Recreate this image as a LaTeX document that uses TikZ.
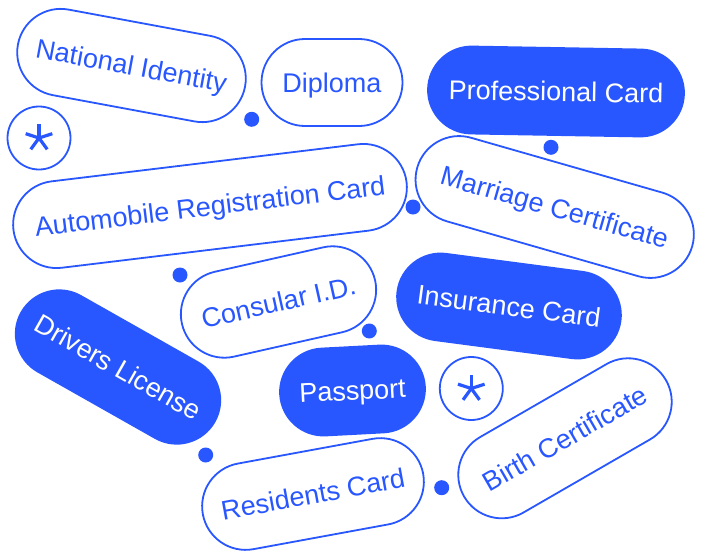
\documentclass[tikz,border=0pt]{standalone}
\usepackage{fontspec}
\setmainfont{Liberation Sans}
\definecolor{brand}{RGB}{41,87,255}
\begin{document}
\begin{tikzpicture}[x=1pt,y=-1pt,
  pill/.style={draw=brand, line width=1.8pt, rounded corners=43.5pt,
    minimum height=87pt, inner sep=0pt, text=brand,
    font=\fontsize{27}{30}\selectfont, text height=19.3pt, text depth=0pt},
  solidpill/.style={pill, fill=brand, text=white},
  dot/.style={circle, fill=brand, minimum size=15pt, inner sep=0pt},
  ring/.style={circle, draw=brand, line width=1.8pt, minimum size=63pt, inner sep=0pt},
  spoke/.style={brand, line width=3.2pt}]
\fill[white] (0,0) rectangle (705,560);
\useasboundingbox (0,0) rectangle (705,560);

% pills
\node[pill, minimum width=231pt, rotate=-10.5] (nat) at (131.5,65.5) {National Identity};
\node[pill, minimum width=141pt] (dip) at (332,82.5) {Diploma};
\node[solidpill, minimum width=256pt, rotate=-1] (prof) at (556,91.5) {Professional Card};
\node[pill, minimum width=396pt, rotate=6.9] (auto) at (210,206) {Automobile Registration Card};
\node[pill, minimum width=286pt, rotate=-16] (mar) at (554.7,207) {Marriage Certificate};
\node[pill, minimum width=198pt, rotate=12.7] (cons) at (278.5,302) {Consular I.D.};
\node[solidpill, minimum width=225pt, rotate=-7.5] (ins) at (509,306) {Insurance Card};
\node[solidpill, minimum width=222pt, rotate=-29.5] (drv) at (118,367) {Drivers License};
\node[solidpill, minimum width=145pt, rotate=3] (pass) at (352.5,390.5) {Passport};
\node[pill, minimum width=224pt, rotate=10.4] (res) at (313,494) {Residents Card};
\node[pill, minimum width=233pt, rotate=30] (birth) at (565,438.3) {Birth Certificate};

% rings with asterisks
\node[ring] (r1) at (39,138) {};
\node[ring] (r2) at (471.3,388.5) {};
\foreach \r in {r1,r2}{
  \foreach \a in {90,18,162,-54,-126}
    \draw[spoke] (\r.center) -- ++(\a:14pt);
}

% dots
\node[dot] (d1) at (251.7,119.3) {};
\node[dot] (d2) at (413,207) {};
\node[dot] (d3) at (180,275) {};
\node[dot] (d4) at (551,147.3) {};
\node[dot] (d5) at (369.3,331) {};
\node[dot] (d6) at (205.7,455) {};
\node[dot] (d7) at (441.7,487.7) {};
\end{tikzpicture}
\end{document}
